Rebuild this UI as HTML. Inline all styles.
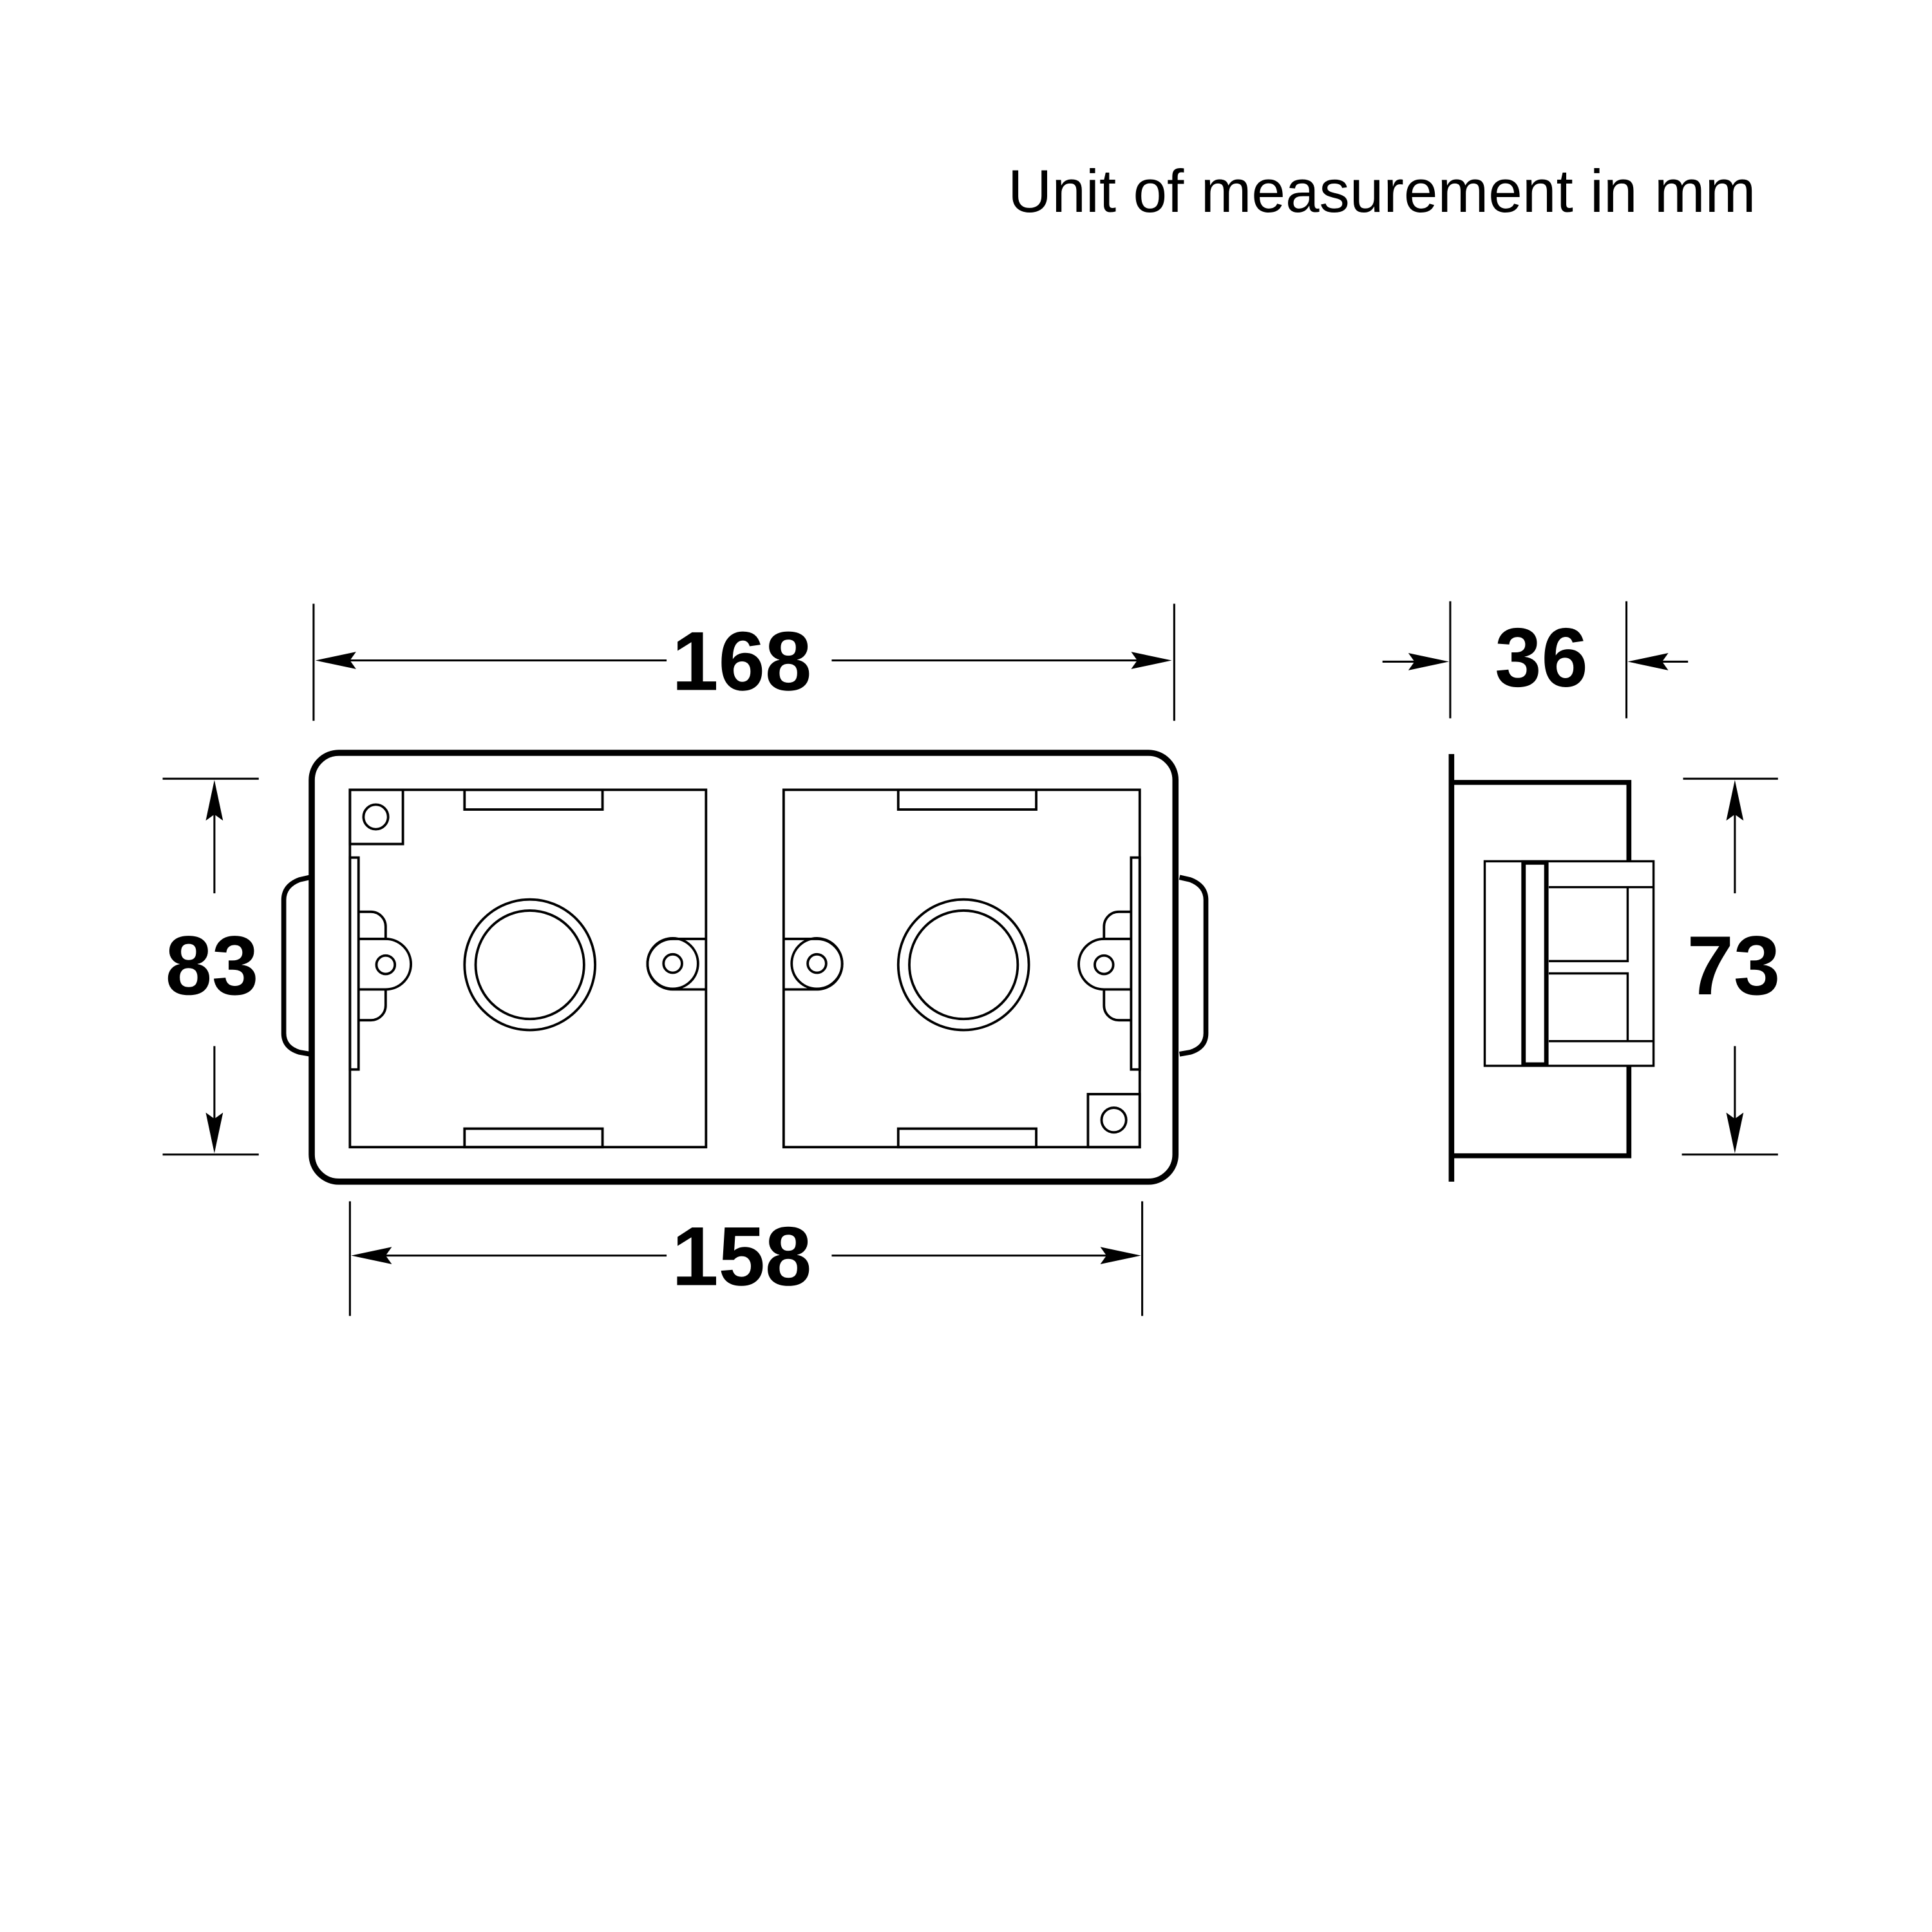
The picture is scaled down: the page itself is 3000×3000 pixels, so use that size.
<!DOCTYPE html>
<html><head><meta charset="utf-8"><style>html,body{margin:0;padding:0;background:#fff}svg{display:block}</style></head>
<body>
<svg xmlns="http://www.w3.org/2000/svg" width="3000" height="3000" viewBox="0 0 1568 1568">
<defs>
<path id="ah" d="M0,0 L33,-7 L28,0 L33,7 Z" fill="#000"/>
<g id="half" fill="none" stroke="#000" stroke-width="2">
  <rect x="284" y="641" width="289" height="290"/>
  <rect x="284" y="696" width="7" height="172"/>
  <path d="M291,740 H301 A12,12 0 0 1 313,752 V762 M291,828 H301 A12,12 0 0 0 313,816 V803"/>
  <path d="M291,762 H313 A20.5,20.5 0 0 1 313,803 H291"/>
  <circle cx="313" cy="783" r="7.5"/>
  <path d="M573,762 H546 A20.5,20.5 0 0 0 546,803 H573"/>
  <circle cx="546" cy="782" r="20.5"/>
  <circle cx="546" cy="782" r="7.5"/>
  <path stroke-width="4" d="M251.7,712 L243,714 Q230,719 230.3,731 V838 Q230,850 243,854 L251.7,855.5"/>
</g>
<g id="deco" fill="none" stroke="#000" stroke-width="2">
  <rect x="377" y="641" width="112" height="16"/>
  <rect x="377" y="916" width="112" height="15"/>
  <circle cx="430" cy="783" r="53"/>
  <circle cx="430" cy="783" r="44"/>
</g>
</defs>
<text x="818" y="172" font-family="Liberation Sans, sans-serif" font-size="49" textLength="607" lengthAdjust="spacingAndGlyphs">Unit of measurement in mm</text>

<rect x="253" y="611" width="701" height="348" rx="22" fill="none" stroke="#000" stroke-width="5"/>
<use href="#half"/>
<use href="#half" transform="translate(1209,0) scale(-1,1)"/>
<use href="#deco"/>
<use href="#deco" transform="translate(352,0)"/>
<g fill="none" stroke="#000" stroke-width="2">
  <rect x="284" y="641" width="43" height="44"/>
  <circle cx="305" cy="663" r="10"/>
  <rect x="883" y="888" width="42" height="43"/>
  <circle cx="904" cy="909" r="10"/>
</g>

<g stroke="#000" stroke-width="1.6" fill="none">
  <line x1="254.5" y1="490" x2="254.5" y2="585"/>
  <line x1="953" y1="490" x2="953" y2="585"/>
  <line x1="280" y1="536" x2="541" y2="536"/>
  <line x1="675" y1="536" x2="925" y2="536"/>
  <line x1="284" y1="975" x2="284" y2="1068"/>
  <line x1="927" y1="975" x2="927" y2="1068"/>
  <line x1="310" y1="1019" x2="541" y2="1019"/>
  <line x1="675" y1="1019" x2="900" y2="1019"/>
  <line x1="132" y1="632" x2="210" y2="632"/>
  <line x1="132" y1="937" x2="210" y2="937"/>
  <line x1="174" y1="660" x2="174" y2="725"/>
  <line x1="174" y1="849" x2="174" y2="910"/>
  <line x1="1177" y1="488" x2="1177" y2="583"/>
  <line x1="1320" y1="488" x2="1320" y2="583"/>
  <line x1="1122" y1="537" x2="1150" y2="537"/>
  <line x1="1347" y1="537" x2="1370" y2="537"/>
  <line x1="1366" y1="632" x2="1443" y2="632"/>
  <line x1="1365" y1="937" x2="1443" y2="937"/>
  <line x1="1408" y1="660" x2="1408" y2="725"/>
  <line x1="1408" y1="849" x2="1408" y2="910"/>
</g>
<use href="#ah" transform="translate(256,536)"/>
<use href="#ah" transform="translate(951,536) rotate(180)"/>
<use href="#ah" transform="translate(285,1019)"/>
<use href="#ah" transform="translate(926,1019) rotate(180)"/>
<use href="#ah" transform="translate(174,633) rotate(90)"/>
<use href="#ah" transform="translate(174,936) rotate(-90)"/>
<use href="#ah" transform="translate(1176,537) rotate(180)"/>
<use href="#ah" transform="translate(1321,537)"/>
<use href="#ah" transform="translate(1408,633) rotate(90)"/>
<use href="#ah" transform="translate(1408,936) rotate(-90)"/>

<g font-family="Liberation Sans, sans-serif" font-weight="bold" font-size="68" text-anchor="middle">
  <text x="602" y="560">168</text>
  <text x="602" y="1043">158</text>
  <text x="172" y="807">83</text>
  <text x="1251" y="557">36</text>
  <text x="1407" y="807">73</text>
</g>

<g fill="none" stroke="#000">
  <line x1="1178" y1="612" x2="1178" y2="959" stroke-width="4.5"/>
  <path d="M1178,635 H1322 V699 M1322,865 V938 H1178" stroke-width="4"/>
  <rect x="1205" y="699" width="137" height="166" stroke-width="1.8"/>
  <rect x="1236.5" y="700" width="18.5" height="164" stroke-width="3.6"/>
  <path d="M1257,720 H1342 M1257,845 H1342 M1257,780 H1321 V720 M1257,790 H1321 V845" stroke-width="1.8"/>
</g>
</svg>
</body></html>
